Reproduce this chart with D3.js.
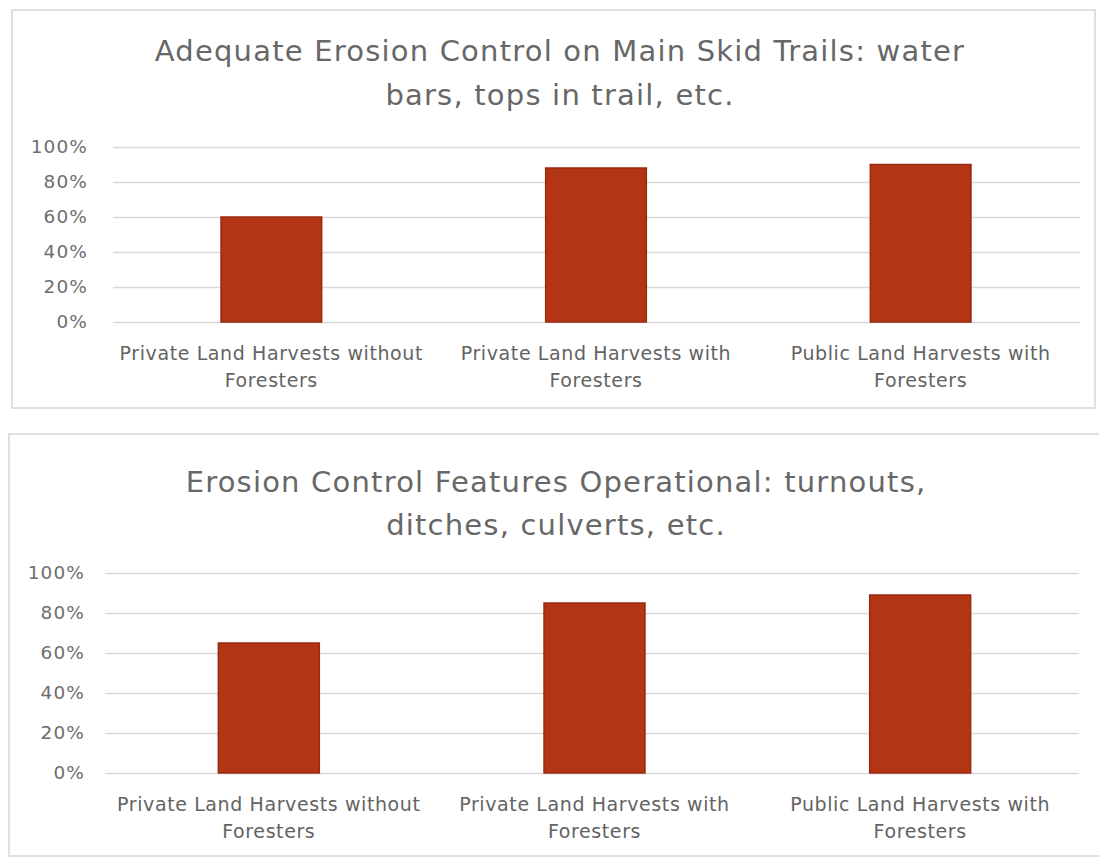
<!DOCTYPE html>
<html>
<head>
<meta charset="utf-8">
<script src="https://cdn.jsdelivr.net/npm/d3@7"></script>
<style>
  html, body { margin: 0; padding: 0; background: #ffffff; }
  svg { display: block; }
</style>
</head>
<body>
<svg id="chart" width="1099" height="858"></svg>
<script>
// ---- data ----
const categories = [
  ["Private Land Harvests without", "Foresters"],
  ["Private Land Harvests with", "Foresters"],
  ["Public Land Harvests with", "Foresters"]
];
const yTicks = [0, 0.2, 0.4, 0.6, 0.8, 1.0];

const chart1Title = ["Adequate Erosion Control on Main Skid Trails: water", "bars, tops in trail, etc."];
const chart1Values = [0.60, 0.88, 0.90];

const chart2Title = ["Erosion Control Features Operational: turnouts,", "ditches, culverts, etc."];
const chart2Values = [0.65, 0.85, 0.89];

// ---- layout ----
const svg = d3.select("#chart");
const FONT = "'DejaVu Sans', 'Open Sans', sans-serif";
const TEXT = "#636363";
const BAR = "#b33514";
const BAR_EDGE = "#982a10";
const GRID = "#d9d9d9";

const panels = [
  { title: chart1Title, values: chart1Values,
    box: [12, 10, 1083, 398],
    titleX: 560, titleY: [61, 105],
    yRange: [322, 147], xRange: [109, 1083], gridX: [113, 1080], labelX: 88,
    catY: [360, 387] },
  { title: chart2Title, values: chart2Values,
    box: [9, 434, 1092, 422],
    titleX: 556, titleY: [492, 535],
    yRange: [773, 573], xRange: [106, 1083], gridX: [105, 1079], labelX: 85,
    catY: [811, 838] }
];

panels.forEach(p => {
  const g = svg.append("g");

  // panel frame
  g.append("rect")
    .attr("x", p.box[0]).attr("y", p.box[1])
    .attr("width", p.box[2]).attr("height", p.box[3])
    .attr("fill", "#ffffff")
    .attr("stroke", "#e0e0e0").attr("stroke-width", 2);

  // title
  const t = g.append("text")
    .attr("text-anchor", "middle")
    .attr("font-family", FONT).attr("font-size", 29)
    .attr("letter-spacing", 1.2)
    .attr("fill", "#676767");
  p.title.forEach((line, i) => {
    t.append("tspan").attr("x", p.titleX).attr("y", p.titleY[i]).text(line);
  });

  const y = d3.scaleLinear().domain([0, 1]).range(p.yRange);
  const x = d3.scaleBand()
    .domain(d3.range(categories.length))
    .range(p.xRange)
    .paddingInner(0.69).paddingOuter(0.345);

  // y axis with gridlines
  const yAxis = d3.axisLeft(y)
    .tickValues(yTicks)
    .tickFormat(d3.format(".0%"))
    .tickSize(-(p.gridX[1] - p.gridX[0]))
    .tickPadding(p.gridX[0] - p.labelX);
  const ya = g.append("g")
    .attr("transform", `translate(${p.gridX[0]},0)`)
    .call(yAxis);
  ya.select(".domain").remove();
  ya.selectAll(".tick line").attr("stroke", GRID).attr("stroke-width", 1.3);
  ya.selectAll(".tick text")
    .attr("font-family", FONT).attr("font-size", 18.5)
    .attr("letter-spacing", 1.1)
    .attr("fill", "#6e6e6e");

  // bars
  g.selectAll("rect.bar")
    .data(p.values)
    .enter().append("rect")
    .attr("class", "bar")
    .attr("x", (d, i) => x(i))
    .attr("y", d => y(d))
    .attr("width", x.bandwidth())
    .attr("height", d => y(0) - y(d))
    .attr("fill", BAR)
    .attr("stroke", BAR_EDGE).attr("stroke-width", 1.5);

  // category labels
  categories.forEach((lines, i) => {
    const lt = g.append("text")
      .attr("text-anchor", "middle")
      .attr("font-family", FONT).attr("font-size", 19)
      .attr("letter-spacing", 0.6)
      .attr("fill", TEXT);
    lines.forEach((line, j) => {
      lt.append("tspan")
        .attr("x", x(i) + x.bandwidth() / 2)
        .attr("y", p.catY[j])
        .text(line);
    });
  });
});
</script>
</body>
</html>
